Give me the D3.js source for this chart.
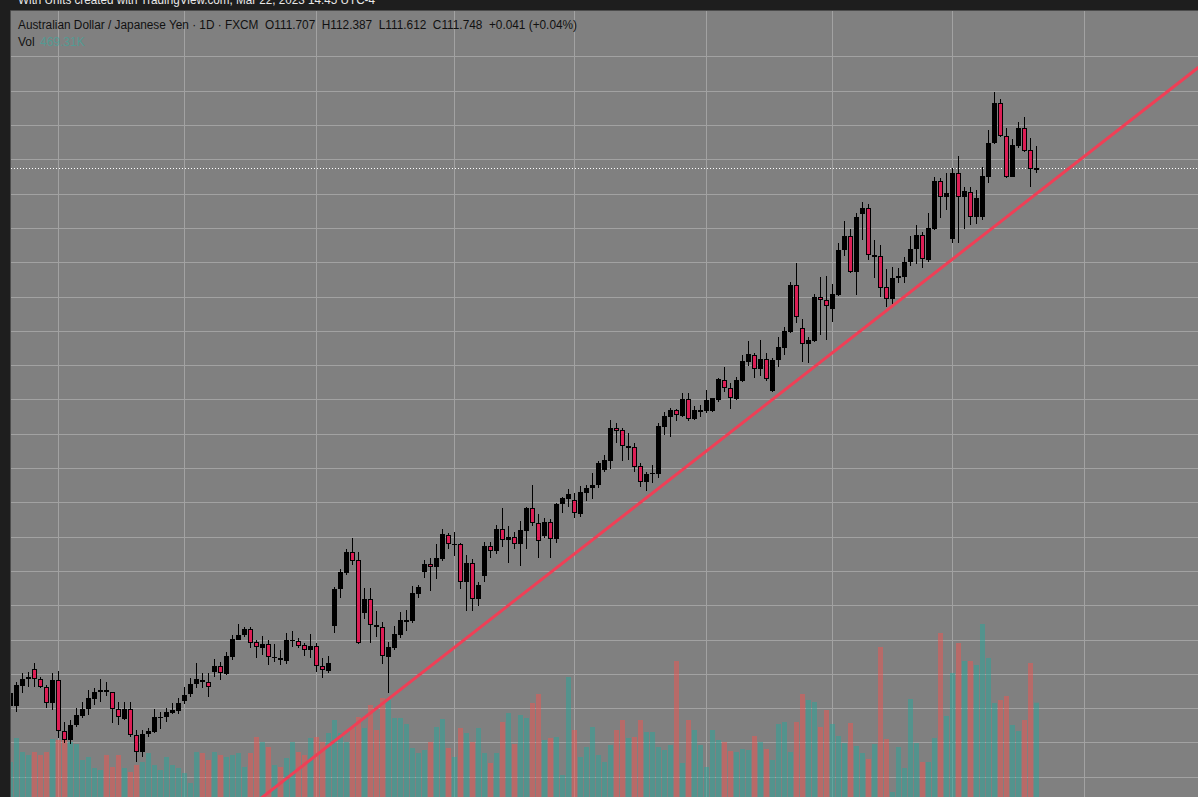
<!DOCTYPE html>
<html>
<head>
<meta charset="utf-8">
<script src="https://cdn.jsdelivr.net/npm/d3@7/dist/d3.min.js"></script>
<style>
  html, body { margin: 0; padding: 0; background: #1e1e1e; overflow: hidden; }
  svg { display: block; }
  text { white-space: pre; }
</style>
</head>
<body>
<svg id="chart" width="1198" height="797"></svg>
<script>
// AUD/JPY daily candles (index 0 = leftmost, partly hidden)
const opens = [96.06,96.07,96.65,96.84,97.13,96.84,96.61,96.14,96.81,95.33,95.07,95.51,95.77,95.97,96.27,96.46,96.53,96.46,95.97,95.68,
  95.97,95.22,94.71,95.25,95.31,95.72,95.73,95.87,95.92,96.21,96.40,96.70,96.83,96.76,97.06,97.23,97.00,97.50,98.00,98.12,
  98.30,97.92,97.76,97.86,97.45,97.46,97.38,97.95,97.95,97.83,97.70,97.80,97.24,97.09,98.40,99.47,99.95,100.54,100.31,98.77,
  99.18,98.42,98.36,97.50,97.76,98.13,98.55,98.55,99.33,99.98,100.19,100.12,100.34,101.05,100.78,100.79,99.67,100.22,99.17,99.86,
  100.73,100.59,101.22,100.89,100.98,100.78,101.18,101.83,101.39,101.02,101.43,100.93,101.94,102.10,102.07,101.66,102.28,102.41,102.50,102.93,
  103.22,104.16,104.10,103.61,103.62,103.06,102.60,102.84,102.83,104.20,104.50,104.68,104.53,105.02,104.42,104.67,104.67,104.67,104.99,105.57,
  105.33,105.00,105.55,106.10,106.31,105.88,106.19,105.25,106.15,106.51,106.97,108.34,107.08,106.61,106.71,107.98,107.90,107.64,108.05,109.36,
  109.77,108.71,110.40,110.57,109.18,109.17,108.27,107.92,108.53,108.58,109.00,109.38,109.80,109.07,109.97,111.37,110.91,109.67,111.59,110.91,
  111.06,110.33,110.31,111.50,112.47,113.64,112.69,111.50,112.39,112.91,112.26,111.707];
const highs = [96.73,96.77,97.03,97.06,97.31,96.92,96.68,97.02,97.08,95.61,95.65,96.00,96.19,96.53,96.58,96.84,96.77,96.48,96.19,96.19,
  96.19,95.36,95.36,95.41,95.97,95.90,96.00,96.14,96.30,96.63,96.87,97.31,97.02,97.02,97.42,97.36,97.64,98.13,98.45,98.36,
  98.37,97.99,98.10,97.99,97.87,97.69,98.18,98.26,98.04,97.89,98.16,97.91,97.45,97.52,99.54,100.06,100.65,100.96,100.54,99.49,
  99.49,98.83,98.51,97.93,98.39,98.80,98.86,99.56,99.59,100.32,100.37,100.78,101.22,101.12,101.15,100.81,100.47,100.34,99.68,100.84,
  100.85,101.34,101.85,101.31,101.15,101.47,101.88,102.51,101.65,101.55,101.52,101.99,102.17,102.38,102.27,102.47,102.51,102.85,103.21,103.37,
  104.40,104.31,104.16,104.03,103.72,103.14,102.89,103.10,104.31,104.64,104.74,104.71,105.18,105.18,104.82,104.84,105.28,105.05,105.63,105.94,
  105.47,105.65,106.30,106.71,106.35,106.73,106.36,106.20,106.81,107.12,108.43,108.98,107.34,106.83,108.07,108.58,108.60,108.37,109.55,110.20,
  109.97,110.43,110.77,110.69,109.65,109.50,108.80,108.87,108.82,109.16,109.77,110.09,109.89,110.45,111.50,111.45,111.59,111.74,112.10,111.19,
  111.19,111.11,111.77,112.86,113.96,113.76,112.91,112.59,113.10,113.24,112.61,112.387];
const lows = [95.71,95.90,96.43,96.63,96.63,96.58,96.00,95.95,95.12,94.98,94.95,95.44,95.70,95.80,96.09,96.19,96.35,95.56,95.51,95.65,
  95.17,94.44,94.58,95.17,95.27,95.38,95.61,95.83,95.83,96.12,96.33,96.58,96.58,96.33,96.92,96.82,96.97,97.40,97.98,98.08,
  97.75,97.45,97.54,97.25,97.34,97.25,97.30,97.77,97.75,97.52,97.45,97.06,96.89,97.02,98.20,99.20,99.88,100.17,97.86,98.59,
  97.89,98.08,97.28,96.44,97.69,98.04,98.24,98.48,99.20,99.80,99.43,99.77,100.30,100.64,100.43,99.48,98.84,98.84,98.98,99.68,
  100.38,100.51,100.71,100.24,100.64,100.16,100.64,101.31,100.38,100.96,100.37,100.82,101.68,101.87,101.54,101.57,102.05,102.11,102.42,102.90,
  102.98,103.74,103.22,103.25,102.89,102.45,102.33,102.57,102.71,103.97,103.92,104.38,104.50,104.38,104.40,104.50,104.62,104.64,104.94,105.23,
  104.72,104.98,105.52,105.98,105.62,105.69,105.55,105.23,105.95,106.30,106.93,107.22,106.10,106.07,106.68,106.88,106.73,107.26,108.02,109.18,
  108.68,108.05,109.65,109.07,108.55,108.00,107.71,107.78,108.39,108.39,108.89,108.95,108.82,109.02,109.94,110.28,110.52,109.55,109.55,109.96,
  110.09,110.12,110.23,111.30,112.45,112.64,111.45,111.48,112.32,112.22,111.19,111.612];
const closes = [96.44,96.68,96.84,96.91,96.85,96.61,96.14,96.82,95.33,95.07,95.51,95.80,95.98,96.31,96.48,96.53,96.46,95.97,95.73,95.97,
  95.22,94.71,95.25,95.33,95.73,95.75,95.90,95.95,96.15,96.39,96.72,96.85,96.76,96.61,97.23,97.02,97.52,98.02,98.12,98.30,
  97.91,97.77,97.86,97.48,97.50,97.40,97.99,97.99,97.82,97.70,97.80,97.24,97.10,97.31,99.47,99.98,100.55,100.30,97.91,99.18,
  98.42,98.36,97.52,97.77,98.15,98.57,98.57,99.35,99.54,100.19,100.12,100.38,101.07,100.78,100.80,99.67,100.24,99.17,99.59,100.73,
  100.59,101.22,100.89,100.99,100.78,101.20,101.85,101.39,100.87,101.43,100.93,101.95,102.13,102.25,101.68,102.29,102.42,102.51,103.16,103.25,
  104.17,104.09,103.63,103.64,103.04,102.60,102.83,102.87,104.23,104.52,104.69,104.54,105.02,104.42,104.69,104.68,104.99,105.03,105.59,105.33,
  105.03,105.57,106.13,106.33,105.88,106.19,105.60,106.15,106.52,106.99,108.35,107.40,106.61,106.73,108.00,107.90,107.73,108.08,109.36,109.77,
  108.71,110.33,110.59,109.21,109.21,108.26,107.92,108.53,108.60,109.01,109.40,109.80,109.09,109.99,111.37,110.91,111.01,111.60,110.91,111.08,
  110.33,110.88,111.52,112.47,113.64,112.69,111.48,112.41,112.91,112.25,111.71,111.748];
// volume, thousands
const volumes = [232,328,272,260,272,260,272,324,320,328,312,304,240,252,208,200,260,212,260,208,
  192,220,232,268,220,200,252,220,208,188,148,272,268,240,272,260,252,260,268,212,
  268,332,312,292,220,212,248,312,272,260,328,332,312,348,400,348,312,368,412,368,
  460,360,488,480,408,408,384,288,268,280,312,372,404,288,252,368,348,312,368,268,
  228,268,392,428,304,420,408,468,504,320,328,332,180,572,360,252,292,372,260,232,
  300,360,400,328,332,400,352,352,292,280,300,636,228,400,360,300,212,360,320,312,
  276,272,284,280,336,312,284,240,384,392,272,392,504,480,472,372,440,384,336,308,
  388,296,268,244,304,692,324,112,292,208,484,308,232,232,328,748,416,588,708,636,
  636,620,784,648,468,480,496,380,356,400,628,469.31];

const monthTicks = [8, 29, 51, 74, 94, 116, 137, 157, 179]; // first session of each month
const priceTicks = d3.range(94, 116);                        // 94 ... 115
const trendPoints = [[63, 96.26], [146, 107.58]];             // index, price
const lastClose = 111.748;

const legendText = "Australian Dollar / Japanese Yen \u00b7 1D \u00b7 FXCM  O111.707  H112.387  L111.612  C111.748  +0.041 (+0.04%)";
const volText = "469.31K";
const headerText = "With Units created with TradingView.com, Mar 22, 2023 14:45 UTC-4";

const W = 1198, H = 797;
const padL = 11, padT = 11;

const svg = d3.select("#chart");

const x = d3.scaleLinear().domain([0, opens.length - 1]).range([10, 1036]);
const y = d3.scaleLinear().domain([116.647, 93.411]).range([0, H]);
const yv = d3.scaleLinear().domain([0, 800]).range([820, 620]);

// frame
svg.append("rect").attr("width", W).attr("height", H).attr("fill", "#1e1e1e");
svg.append("rect")
  .attr("x", padL).attr("y", padT)
  .attr("width", W - padL).attr("height", H - padT)
  .attr("fill", "#808080");
svg.append("path")
  .attr("d", `M${padL - 0.5},${H}V${padT - 0.5}H${W}`)
  .attr("fill", "none").attr("stroke", "#4c4c4c");

svg.append("defs").append("clipPath").attr("id", "pane")
  .append("rect").attr("x", padL).attr("y", padT).attr("width", W - padL).attr("height", H - padT);

const pane = svg.append("g").attr("clip-path", "url(#pane)");

// grid
pane.append("g").selectAll("line").data(priceTicks).join("line")
  .attr("x1", padL).attr("x2", W)
  .attr("y1", d => Math.round(y(d)) + 0.5).attr("y2", d => Math.round(y(d)) + 0.5)
  .attr("stroke", "#a2a2a2").attr("stroke-width", 1);

pane.append("g").selectAll("line").data(monthTicks).join("line")
  .attr("x1", d => Math.round(x(d)) + 0.5).attr("x2", d => Math.round(x(d)) + 0.5)
  .attr("y1", padT).attr("y2", H)
  .attr("stroke", "#a2a2a2").attr("stroke-width", 1);

const idx = d3.range(opens.length);
const isUp = i => closes[i] >= opens[i];

// volume
pane.append("g").selectAll("rect").data(idx).join("rect")
  .attr("x", i => Math.round(x(i)) - 2)
  .attr("width", 5)
  .attr("y", i => yv(volumes[i]))
  .attr("height", i => yv(0) - yv(volumes[i]))
  .attr("fill", i => isUp(i) ? "#26a69a" : "#ef5350")
  .attr("fill-opacity", 0.5);

// last price line
pane.append("line")
  .attr("x1", padL).attr("x2", W)
  .attr("y1", Math.round(y(lastClose)) + 0.5).attr("y2", Math.round(y(lastClose)) + 0.5)
  .attr("stroke", "#ffffff").attr("stroke-width", 1)
  .attr("stroke-dasharray", "1,2");

// candles
const cg = pane.append("g").attr("shape-rendering", "crispEdges");
cg.selectAll("rect.wick").data(idx).join("rect")
  .attr("class", "wick")
  .attr("x", i => Math.round(x(i)))
  .attr("width", 1)
  .attr("y", i => y(highs[i]))
  .attr("height", i => y(lows[i]) - y(highs[i]))
  .attr("fill", "#000");

cg.selectAll("rect.body").data(idx).join("rect")
  .attr("class", "body")
  .attr("x", i => Math.round(x(i)) - 2)
  .attr("width", 5)
  .attr("y", i => y(Math.max(opens[i], closes[i])))
  .attr("height", i => Math.max(1.5, Math.abs(y(opens[i]) - y(closes[i]))))
  .attr("fill", "#000");

cg.selectAll("rect.fill").data(idx.filter(i => !isUp(i))).join("rect")
  .attr("class", "fill")
  .attr("x", i => Math.round(x(i)) - 1)
  .attr("width", 3)
  .attr("y", i => y(opens[i]) + 1)
  .attr("height", i => Math.max(0, y(closes[i]) - y(opens[i]) - 2))
  .attr("fill", "#dc1e55");

// trend line, extended across the pane
const slope = (trendPoints[1][1] - trendPoints[0][1]) / (trendPoints[1][0] - trendPoints[0][0]);
const priceAt = i => trendPoints[0][1] + slope * (i - trendPoints[0][0]);
const i0 = x.invert(padL - 20), i1 = x.invert(W + 20);
pane.append("line")
  .attr("x1", x(i0)).attr("y1", y(priceAt(i0)))
  .attr("x2", x(i1)).attr("y2", y(priceAt(i1)))
  .attr("stroke", "#ef3f56").attr("stroke-width", 3)
  .attr("stroke-linecap", "round");

// texts
svg.append("text")
  .attr("x", 18).attr("y", 4)
  .attr("font-family", "Liberation Sans, Arial, sans-serif")
  .attr("font-size", 12)
  .attr("fill", "#e8e8e8")
  .attr("textLength", 357)
  .attr("lengthAdjust", "spacingAndGlyphs")
  .text(headerText);

svg.append("text")
  .attr("x", 18).attr("y", 29)
  .attr("font-family", "Liberation Sans, Arial, sans-serif")
  .attr("font-size", 12)
  .attr("fill", "#111")
  .attr("textLength", 559)
  .attr("lengthAdjust", "spacingAndGlyphs")
  .text(legendText);

svg.append("text")
  .attr("x", 18).attr("y", 46)
  .attr("font-family", "Liberation Sans, Arial, sans-serif")
  .attr("font-size", 12)
  .attr("fill", "#111")
  .text("Vol");

svg.append("text")
  .attr("x", 40).attr("y", 46)
  .attr("font-family", "Liberation Sans, Arial, sans-serif")
  .attr("font-size", 12)
  .attr("fill", "#3fa79c")
  .attr("fill-opacity", 0.7)
  .text(volText);
</script>
</body>
</html>
